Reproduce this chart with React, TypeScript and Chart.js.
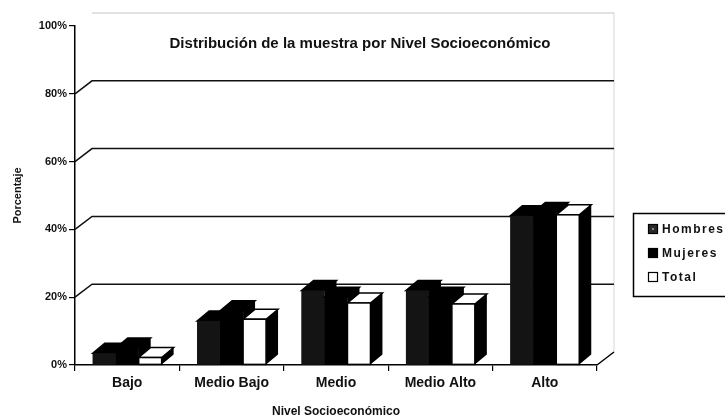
import React, { useEffect, useRef } from 'react';
import { Chart, registerables } from 'chart.js';

Chart.register(...registerables);

const categories = ['Bajo', 'Medio Bajo', 'Medio', 'Medio Alto', 'Alto'];
const seriesNames = ['Hombres', 'Mujeres', 'Total'];
const hombres = [3.5, 13, 22, 22, 44];
const mujeres = [5, 16, 20, 20, 45];
const total = [2.2, 13.5, 18.3, 18, 44.3];
const yTicks = [0, 20, 40, 60, 80, 100];
const chartTitle = 'Distribución de la muestra por Nivel Socioeconómico';
const xTitle = 'Nivel Socioeconómico';
const yTitle = 'Porcentaje';

const FONT = "'Liberation Sans', Arial, Helvetica, sans-serif";
const BDX = 12, BDY = 10; // bar depth offset
const WDX = 17, WDY = 13; // wall depth offset

const frontColors = ['#141414', '#000000', '#ffffff'];

const threeD = {
  id: 'threeD',
  beforeDatasetsDraw(chart: any) {
    const { ctx, chartArea: a, scales } = chart;
    const y = scales.y;
    ctx.save();
    // right wall edge (faint)
    ctx.strokeStyle = '#d6d6d6';
    ctx.lineWidth = 1;
    ctx.beginPath();
    ctx.moveTo(a.right + WDX, y.getPixelForValue(100) - WDY);
    ctx.lineTo(a.right + WDX, y.getPixelForValue(0) - WDY);
    ctx.stroke();
    for (const v of yTicks) {
      const py = y.getPixelForValue(v);
      ctx.beginPath();
      if (v === 0) {
        ctx.strokeStyle = '#000';
        ctx.lineWidth = 1.5;
        ctx.moveTo(a.right, py);
        ctx.lineTo(a.right + WDX, py - WDY);
      } else if (v === 100) {
        ctx.strokeStyle = '#c4c4c4';
        ctx.lineWidth = 1.2;
        ctx.moveTo(a.left + WDX, py - WDY);
        ctx.lineTo(a.right + WDX, py - WDY);
      } else {
        ctx.strokeStyle = '#111';
        ctx.lineWidth = 1.5;
        ctx.moveTo(a.left, py);
        ctx.lineTo(a.left + WDX, py - WDY);
        ctx.lineTo(a.right + WDX, py - WDY);
      }
      ctx.stroke();
    }
    ctx.restore();
  },
  afterDatasetsDraw(chart: any) {
    const { ctx } = chart;
    const metas = seriesNames.map((_, i) => chart.getDatasetMeta(i));
    ctx.save();
    ctx.lineJoin = 'miter';
    for (let c = 0; c < categories.length; c++) {
      for (let d = 0; d < metas.length; d++) {
        const el = metas[d].data[c];
        if (!el) continue;
        const { x, y, base, width } = el.getProps(['x', 'y', 'base', 'width'], true);
        const l = x - width / 2;
        const r = x + width / 2;
        const isTotal = d === 2;
        // side face
        ctx.fillStyle = '#000';
        ctx.beginPath();
        ctx.moveTo(r, y);
        ctx.lineTo(r + BDX, y - BDY);
        ctx.lineTo(r + BDX, base - BDY);
        ctx.lineTo(r, base);
        ctx.closePath();
        ctx.fill();
        // top face
        ctx.beginPath();
        ctx.moveTo(l, y);
        ctx.lineTo(r, y);
        ctx.lineTo(r + BDX, y - BDY);
        ctx.lineTo(l + BDX, y - BDY);
        ctx.closePath();
        ctx.fillStyle = isTotal ? '#fff' : '#000';
        ctx.fill();
        ctx.strokeStyle = '#000';
        ctx.lineWidth = 1.5;
        ctx.stroke();
        // front face
        ctx.fillStyle = frontColors[d];
        ctx.fillRect(l, y, width, base - y);
        if (isTotal) {
          ctx.strokeRect(l, y, width, base - y);
        }
      }
    }
    ctx.restore();
  },
  afterDraw(chart: any) {
    const { ctx } = chart;
    ctx.save();
    // title
    ctx.fillStyle = '#111';
    ctx.font = `bold 15px ${FONT}`;
    ctx.textAlign = 'center';
    ctx.textBaseline = 'middle';
    ctx.fillText(chartTitle, 360, 44);
    // legend
    ctx.strokeStyle = '#000';
    ctx.lineWidth = 1.5;
    ctx.strokeRect(633.5, 213.5, 100, 83);
    ctx.font = `bold 12px ${FONT}`;
    ctx.textAlign = 'left';
    (ctx as any).letterSpacing = '1.5px';
    const rowsY = [229, 253, 277];
    seriesNames.forEach((name, i) => {
      const cy = rowsY[i];
      ctx.fillStyle = i === 2 ? '#fff' : i === 0 ? '#2a2a2a' : '#000';
      ctx.fillRect(648, cy - 5, 10, 10);
      ctx.lineWidth = 1.2;
      ctx.strokeRect(648.5, cy - 4.5, 9, 9);
      if (i === 0) {
        ctx.fillStyle = '#888';
        ctx.fillRect(652, cy - 1, 2, 2);
      }
      ctx.fillStyle = '#111';
      ctx.fillText(name, 662, cy + 1);
    });
    ctx.restore();
  },
};

export default function App() {
  const ref = useRef<HTMLCanvasElement>(null);
  useEffect(() => {
    document.body.style.margin = '0';
    const canvas = ref.current!;
    const chart = new Chart(canvas, {
      type: 'bar',
      data: {
        labels: categories,
        datasets: [
          { label: seriesNames[0], data: hombres, backgroundColor: frontColors[0] },
          { label: seriesNames[1], data: mujeres, backgroundColor: frontColors[1] },
          { label: seriesNames[2], data: total, backgroundColor: frontColors[2], borderColor: '#000', borderWidth: 1 },
        ],
      },
      options: {
        responsive: false,
        animation: false,
        layout: { padding: { left: 0, right: 128, top: 26, bottom: 0 } },
        datasets: { bar: { categoryPercentage: 0.66, barPercentage: 1 } } as any,
        plugins: {
          legend: { display: false },
          title: { display: false },
          tooltip: { enabled: false },
        },
        scales: {
          x: {
            grid: { display: true, drawOnChartArea: false, offset: true, tickLength: 6, color: '#000', lineWidth: 1.2 },
            border: { display: true, color: '#000', width: 1.5 },
            ticks: { color: '#111', font: { family: FONT, size: 14, weight: 'bold' }, padding: 4 },
            title: { display: true, text: xTitle, color: '#111', font: { family: FONT, size: 12, weight: 'bold' }, padding: { top: 0, bottom: 1 } },
            afterFit: (s: any) => { s.height = 55; },
          },
          y: {
            min: 0,
            max: 100,
            afterBuildTicks: (s: any) => { s.ticks = yTicks.map((v) => ({ value: v })); },
            ticks: { color: '#111', font: { family: FONT, size: 11, weight: 'bold' }, padding: 2, callback: (v: any) => v + '%' },
            grid: { display: true, drawOnChartArea: false, tickLength: 6, color: '#000', lineWidth: 1.2 },
            border: { display: true, color: '#000', width: 1.5 },
            title: { display: true, text: yTitle, color: '#111', font: { family: FONT, size: 11, weight: 'bold' }, padding: { top: 11, bottom: 0 } },
            afterFit: (s: any) => { s.width = 75; },
          },
        },
      } as any,
      plugins: [threeD],
    });
    return () => chart.destroy();
  }, []);
  return (
    <div style={{ position: 'fixed', left: 0, top: 0, width: 725, height: 420, background: '#fff' }}>
      <canvas ref={ref} width={725} height={420} />
    </div>
  );
}
